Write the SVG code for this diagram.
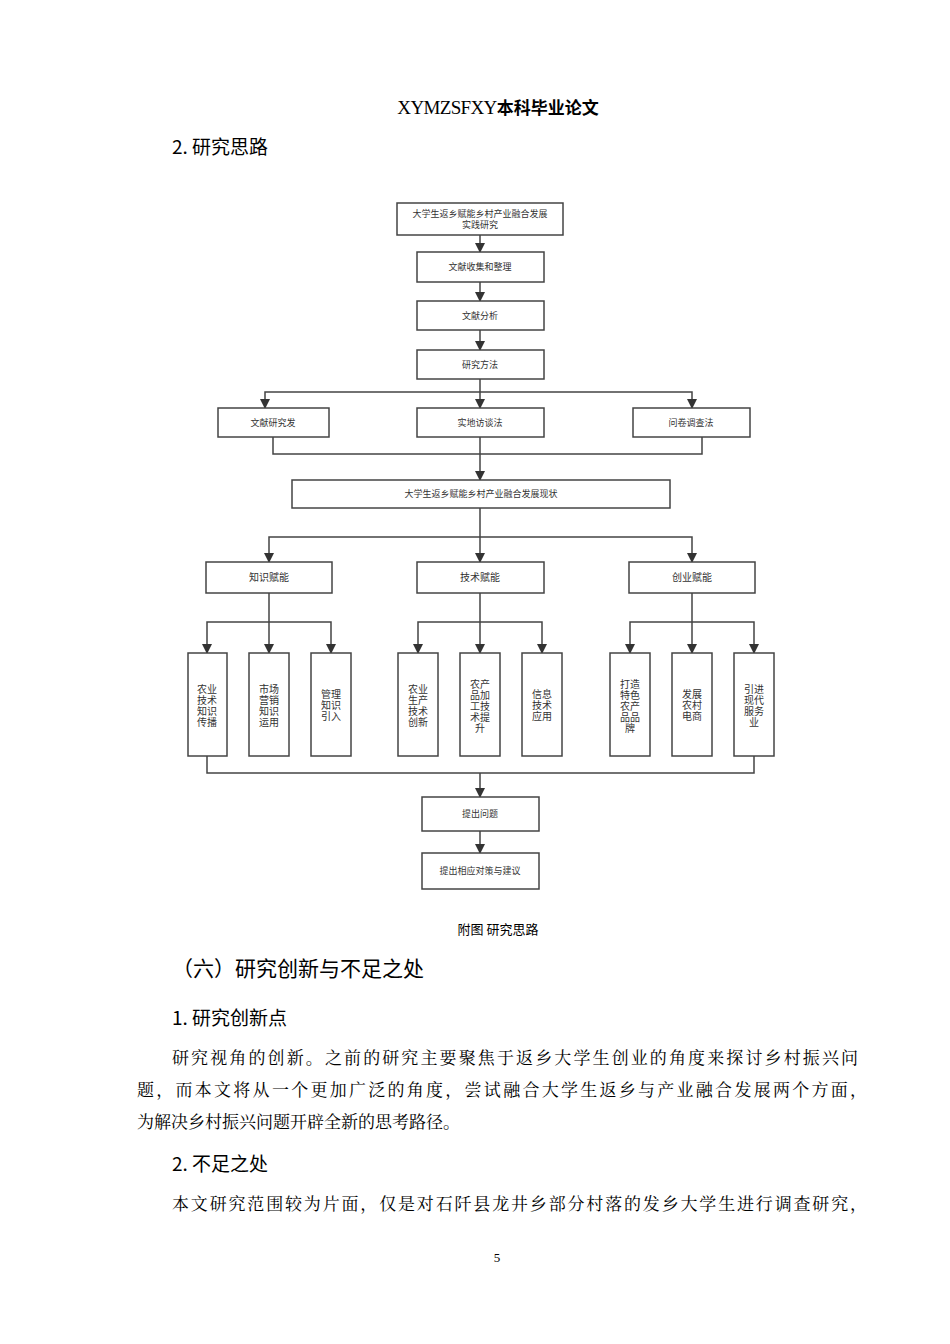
<svg xmlns="http://www.w3.org/2000/svg" width="950" height="1344" viewBox="0 0 950 1344">
<style>
.b{fill:#fff;stroke:#444;stroke-width:1.5}
.t{font-family:"Noto Sans CJK SC",sans-serif;font-size:9px;fill:#333;text-anchor:middle}
.v{font-family:"Noto Sans CJK SC",sans-serif;font-size:10px;fill:#333;text-anchor:middle}
.c{fill:none;stroke:#444;stroke-width:1.5}
.h{font-family:"Noto Sans CJK SC",sans-serif;fill:#000}
.p{font-family:"Noto Serif CJK SC","Liberation Serif","Noto Sans CJK SC",serif;font-size:17px;fill:#000}
</style>
<defs><marker id="a" viewBox="0 0 10 10" refX="9" refY="5" markerWidth="7" markerHeight="7" orient="auto"><path d="M0,0L10,5L0,10z" fill="#333"/></marker></defs>
<rect width="950" height="1344" fill="#fff"/>
<text x="498" y="114" text-anchor="middle" style="font-size:19px"><tspan font-family="Liberation Serif,serif" textLength="100">XYMZSFXY</tspan><tspan class="h" font-weight="bold" font-size="17">本科毕业论文</tspan></text>
<text class="h" x="172" y="154" font-size="19">2. 研究思路</text>
<g id="connectors">
<path class="c" d="M480,235V252" marker-end="url(#a)"/>
<path class="c" d="M480,282V301" marker-end="url(#a)"/>
<path class="c" d="M480,330V350" marker-end="url(#a)"/>
<path class="c" d="M480,379V408" marker-end="url(#a)"/>
<path class="c" d="M480,392H265V408" marker-end="url(#a)"/>
<path class="c" d="M480,392H692V408" marker-end="url(#a)"/>
<path class="c" d="M273,437V454H702V437"/>
<path class="c" d="M480,437V480" marker-end="url(#a)"/>
<path class="c" d="M480,508V562" marker-end="url(#a)"/>
<path class="c" d="M480,537H269V562" marker-end="url(#a)"/>
<path class="c" d="M480,537H692V562" marker-end="url(#a)"/>
<path class="c" d="M269,593V653" marker-end="url(#a)"/>
<path class="c" d="M269,622H207V653" marker-end="url(#a)"/>
<path class="c" d="M269,622H331V653" marker-end="url(#a)"/>
<path class="c" d="M480,593V653" marker-end="url(#a)"/>
<path class="c" d="M480,622H418V653" marker-end="url(#a)"/>
<path class="c" d="M480,622H542V653" marker-end="url(#a)"/>
<path class="c" d="M692,593V653" marker-end="url(#a)"/>
<path class="c" d="M692,622H630V653" marker-end="url(#a)"/>
<path class="c" d="M692,622H754V653" marker-end="url(#a)"/>
<path class="c" d="M207,756V773H754V756"/>
<path class="c" d="M480,773V797" marker-end="url(#a)"/>
<path class="c" d="M480,831V853" marker-end="url(#a)"/>
</g>
<g id="n1"><rect class="b" x="397" y="203" width="166" height="32"/><text class="t" x="480" y="217">大学生返乡赋能乡村产业融合发展</text><text class="t" x="480" y="228">实践研究</text></g>
<g id="n2"><rect class="b" x="417" y="252" width="127" height="30"/><text class="t" x="480" y="270">文献收集和整理</text></g>
<g id="n3"><rect class="b" x="417" y="301" width="127" height="29"/><text class="t" x="480" y="319">文献分析</text></g>
<g id="n4"><rect class="b" x="417" y="350" width="127" height="29"/><text class="t" x="480" y="368">研究方法</text></g>
<g id="n5"><rect class="b" x="218" y="408" width="111" height="29"/><text class="t" x="273" y="426">文献研究发</text></g>
<g id="n6"><rect class="b" x="417" y="408" width="127" height="29"/><text class="t" x="480" y="426">实地访谈法</text></g>
<g id="n7"><rect class="b" x="633" y="408" width="117" height="29"/><text class="t" x="691" y="426">问卷调查法</text></g>
<g id="n8"><rect class="b" x="292" y="480" width="378" height="28"/><text class="t" x="481" y="497">大学生返乡赋能乡村产业融合发展现状</text></g>
<g id="n9"><rect class="b" x="206" y="562" width="126" height="31"/><text class="v" x="269" y="581">知识赋能</text></g>
<g id="n10"><rect class="b" x="417" y="562" width="127" height="31"/><text class="v" x="480" y="581">技术赋能</text></g>
<g id="n11"><rect class="b" x="629" y="562" width="126" height="31"/><text class="v" x="692" y="581">创业赋能</text></g>
<g id="n12"><rect class="b" x="188" y="653" width="39" height="103"/><text class="v"><tspan x="207" y="693">农业</tspan><tspan x="207" y="704">技术</tspan><tspan x="207" y="715">知识</tspan><tspan x="207" y="726">传播</tspan></text></g>
<g id="n13"><rect class="b" x="249" y="653" width="40" height="103"/><text class="v"><tspan x="269" y="693">市场</tspan><tspan x="269" y="704">营销</tspan><tspan x="269" y="715">知识</tspan><tspan x="269" y="726">运用</tspan></text></g>
<g id="n14"><rect class="b" x="311" y="653" width="40" height="103"/><text class="v"><tspan x="331" y="698">管理</tspan><tspan x="331" y="709">知识</tspan><tspan x="331" y="720">引入</tspan></text></g>
<g id="n15"><rect class="b" x="398" y="653" width="40" height="103"/><text class="v"><tspan x="418" y="693">农业</tspan><tspan x="418" y="704">生产</tspan><tspan x="418" y="715">技术</tspan><tspan x="418" y="726">创新</tspan></text></g>
<g id="n16"><rect class="b" x="460" y="653" width="40" height="103"/><text class="v"><tspan x="480" y="688">农产</tspan><tspan x="480" y="699">品加</tspan><tspan x="480" y="710">工技</tspan><tspan x="480" y="721">术提</tspan><tspan x="480" y="732">升</tspan></text></g>
<g id="n17"><rect class="b" x="522" y="653" width="40" height="103"/><text class="v"><tspan x="542" y="698">信息</tspan><tspan x="542" y="709">技术</tspan><tspan x="542" y="720">应用</tspan></text></g>
<g id="n18"><rect class="b" x="610" y="653" width="40" height="103"/><text class="v"><tspan x="630" y="688">打造</tspan><tspan x="630" y="699">特色</tspan><tspan x="630" y="710">农产</tspan><tspan x="630" y="721">品品</tspan><tspan x="630" y="732">牌</tspan></text></g>
<g id="n19"><rect class="b" x="672" y="653" width="40" height="103"/><text class="v"><tspan x="692" y="698">发展</tspan><tspan x="692" y="709">农村</tspan><tspan x="692" y="720">电商</tspan></text></g>
<g id="n20"><rect class="b" x="734" y="653" width="40" height="103"/><text class="v"><tspan x="754" y="693">引进</tspan><tspan x="754" y="704">现代</tspan><tspan x="754" y="715">服务</tspan><tspan x="754" y="726">业</tspan></text></g>
<g id="n21"><rect class="b" x="422" y="797" width="117" height="34"/><text class="t" x="480" y="817">提出问题</text></g>
<g id="n22"><rect class="b" x="422" y="853" width="117" height="36"/><text class="t" x="480" y="874">提出相应对策与建议</text></g>
<text class="h" x="498" y="934" font-size="13" text-anchor="middle">附图  研究思路</text>
<text class="h" x="172" y="976" font-size="21">（六）研究创新与不足之处</text>
<text class="h" x="172" y="1025" font-size="19">1. 研究创新点</text>
<text class="p" x="172" y="1064" textLength="686" lengthAdjust="spacing">研究视角的创新。之前的研究主要聚焦于返乡大学生创业的角度来探讨乡村振兴问</text>
<text class="p" x="137" y="1096" textLength="730" lengthAdjust="spacing">题，而本文将从一个更加广泛的角度，尝试融合大学生返乡与产业融合发展两个方面，</text>
<text class="p" x="137" y="1128">为解决乡村振兴问题开辟全新的思考路径。</text>
<text class="h" x="172" y="1171" font-size="19">2. 不足之处</text>
<text class="p" x="172" y="1210" textLength="695" lengthAdjust="spacing">本文研究范围较为片面，仅是对石阡县龙井乡部分村落的发乡大学生进行调查研究，</text>
<text x="497" y="1262" font-family="Liberation Serif,serif" font-size="13" text-anchor="middle">5</text>
</svg>
